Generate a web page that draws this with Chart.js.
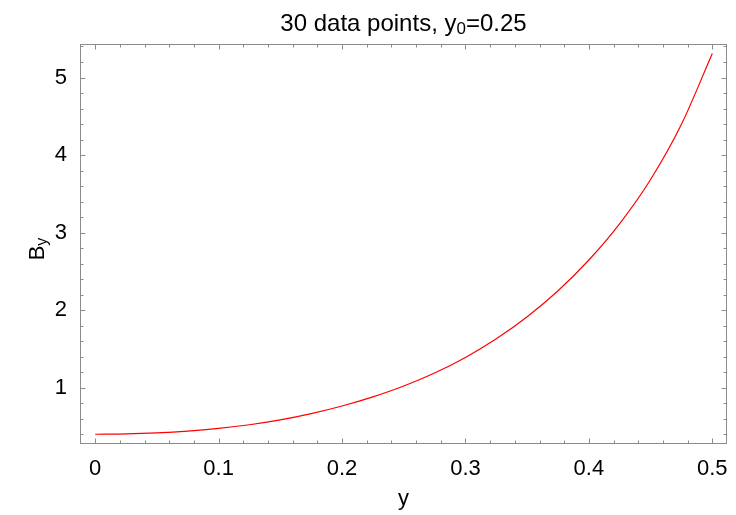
<!DOCTYPE html>
<html>
<head>
<meta charset="utf-8">
<script src="https://cdn.jsdelivr.net/npm/chart.js@4"></script>
<style>
  html, body { margin: 0; padding: 0; background: #fff; }
  #chart { display: block; }
</style>
</head>
<body>
<canvas id="chart" width="736" height="515"></canvas>
<script>
// B_y against y
const yPos = [0, 0.025, 0.05, 0.075, 0.1, 0.125, 0.15, 0.175, 0.2, 0.225, 0.25,
              0.275, 0.3, 0.325, 0.35, 0.375, 0.4, 0.425, 0.45, 0.475, 0.5];
const byVals = [0.400, 0.404, 0.417, 0.440, 0.475, 0.522, 0.584, 0.665, 0.764, 0.882, 1.022,
                1.190, 1.390, 1.630, 1.915, 2.251, 2.647, 3.117, 3.685, 4.397, 5.310];

const xMajor = [0, 0.1, 0.2, 0.3, 0.4, 0.5];
const yMajor = [1, 2, 3, 4, 5];
const xRange = [-0.0123, 0.5119];
const yRange = [0.274, 5.432];

const FONT = "'Liberation Sans', Arial, sans-serif";
const FRAME = '#8c8c8c';

// minor ticks every 0.02 on x, 0.2 on y
const xMinor = [];
for (let i = 0; i <= 25; i++) xMinor.push(+(i * 0.02).toFixed(2));
const yMinor = [];
for (let i = 2; i <= 27; i++) yMinor.push(+(i * 0.2).toFixed(1));

const isMajor = (v, list) => list.some(m => Math.abs(m - v) < 1e-6);

// frame, inward ticks on all sides, title and axis titles
const framePlugin = {
  id: 'frame',
  afterDraw(chart) {
    const { ctx, chartArea: a, scales } = chart;
    const L = a.left + 0.5, R = a.right - 0.5, T = a.top + 0.5, B = a.bottom - 0.5;
    ctx.save();
    ctx.strokeStyle = FRAME;
    ctx.lineWidth = 1;
    ctx.strokeRect(L, T, R - L, B - T);

    ctx.beginPath();
    xMinor.forEach(v => {
      const px = Math.round(scales.x.getPixelForValue(v)) + 0.5;
      const len = isMajor(v, xMajor) ? 5 : 3;
      ctx.moveTo(px, B); ctx.lineTo(px, B - len);
      ctx.moveTo(px, T); ctx.lineTo(px, T + len);
    });
    yMinor.forEach(v => {
      const py = Math.round(scales.y.getPixelForValue(v)) + 0.5;
      const len = isMajor(v, yMajor) ? 5 : 3;
      ctx.moveTo(L, py); ctx.lineTo(L + len, py);
      ctx.moveTo(R, py); ctx.lineTo(R - len, py);
    });
    ctx.stroke();

    ctx.fillStyle = '#000';
    ctx.textBaseline = 'alphabetic';

    // title: 30 data points, y0=0.25
    const t1 = '30 data points, y', sub = '0', t2 = '=0.25';
    ctx.font = '24px ' + FONT;
    const w1 = ctx.measureText(t1).width, w3 = ctx.measureText(t2).width;
    ctx.font = '17px ' + FONT;
    const w2 = ctx.measureText(sub).width;
    let x = (a.left + a.right) / 2 - (w1 + w2 + w3) / 2;
    ctx.textAlign = 'left';
    ctx.font = '24px ' + FONT;
    ctx.fillText(t1, x, 31);
    ctx.font = '17px ' + FONT;
    ctx.fillText(sub, x + w1, 34);
    ctx.font = '24px ' + FONT;
    ctx.fillText(t2, x + w1 + w2, 31);

    // x title
    ctx.font = '22px ' + FONT;
    ctx.textAlign = 'center';
    ctx.fillText('y', (a.left + a.right) / 2, 505);

    // y title: B_y rotated
    ctx.translate(43.5, 249);
    ctx.rotate(-Math.PI / 2);
    ctx.font = '22px ' + FONT;
    const wb = ctx.measureText('B').width;
    ctx.font = '16px ' + FONT;
    const wy = ctx.measureText('y').width;
    ctx.textAlign = 'left';
    ctx.font = '22px ' + FONT;
    ctx.fillText('B', -(wb + wy) / 2, 0);
    ctx.font = '16px ' + FONT;
    ctx.fillText('y', -(wb + wy) / 2 + wb, 3);
    ctx.restore();
  }
};

new Chart(document.getElementById('chart'), {
  type: 'line',
  data: {
    labels: yPos,
    datasets: [{
      data: yPos.map((v, i) => ({ x: v, y: byVals[i] })),
      borderColor: '#ff0000',
      borderWidth: 1.2,
      pointRadius: 0,
      cubicInterpolationMode: 'monotone',
      fill: false
    }]
  },
  options: {
    responsive: false,
    animation: false,
    layout: { padding: { top: 44, right: 9, left: 0, bottom: 0 } },
    plugins: { legend: { display: false }, title: { display: false }, tooltip: { enabled: false } },
    scales: {
      x: {
        type: 'linear',
        min: xRange[0],
        max: xRange[1],
        afterBuildTicks: s => { s.ticks = xMinor.map(v => ({ value: v })); },
        afterFit: s => { s.height = 71; s.paddingLeft = 0; s.paddingRight = 0; },
        grid: { display: false, drawTicks: false },
        border: { display: false },
        ticks: {
          autoSkip: false,
          maxRotation: 0,
          padding: 12,
          color: '#000',
          font: { family: FONT, size: 22 },
          callback: v => isMajor(v, xMajor) ? String(+v.toFixed(1)) : ''
        }
      },
      y: {
        type: 'linear',
        min: yRange[0],
        max: yRange[1],
        afterBuildTicks: s => { s.ticks = yMinor.map(v => ({ value: v })); },
        afterFit: s => { s.width = 80; s.paddingTop = 0; s.paddingBottom = 0; },
        grid: { display: false, drawTicks: false },
        border: { display: false },
        ticks: {
          autoSkip: false,
          padding: 13,
          color: '#000',
          font: { family: FONT, size: 22 },
          callback: v => isMajor(v, yMajor) ? String(Math.round(v)) : ''
        }
      }
    }
  },
  plugins: [framePlugin]
});
</script>
</body>
</html>
